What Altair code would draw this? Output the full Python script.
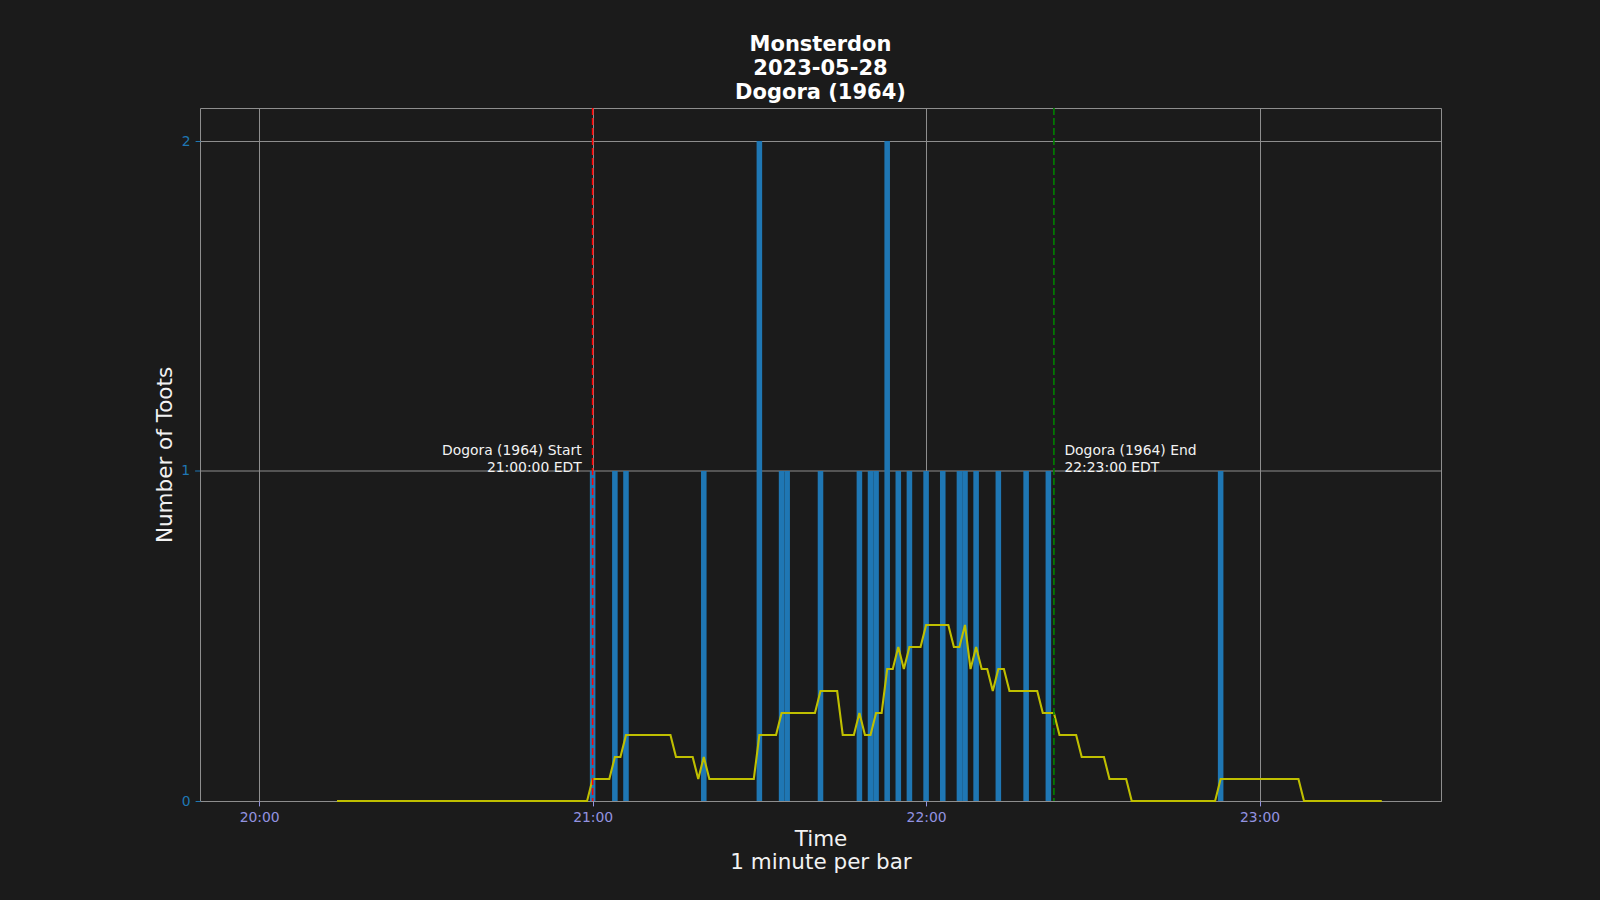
import altair as alt
import pandas as pd

DATE = "2023-05-28"

# Toots per minute (bars)
bar_times = ["21:00", "21:04", "21:06", "21:20", "21:30", "21:34", "21:35", "21:41",
             "21:48", "21:50", "21:51", "21:53", "21:55", "21:57", "22:00", "22:03",
             "22:06", "22:07", "22:09", "22:13", "22:18", "22:22", "22:53"]
bar_counts = [1, 1, 1, 1, 2, 1, 1, 1,
              1, 1, 1, 2, 1, 1, 1, 1,
              1, 1, 1, 1, 1, 1, 1]

# Rolling 15-minute line: toots in the window, one value per minute from 20:14
line_start = "20:14"
window_minutes = 15
line_window_counts = [
    0, 0, 0, 0, 0, 0, 0, 0, 0, 0, 0, 0, 0, 0, 0, 0,          # 20:14-20:29
    0, 0, 0, 0, 0, 0, 0, 0, 0, 0, 0, 0, 0, 0, 0,             # 20:30-20:44
    0, 0, 0, 0, 0, 0, 0, 0, 0, 0, 0, 0, 0, 0, 0,             # 20:45-20:59
    1, 1, 1, 1, 2, 2, 3, 3, 3, 3, 3, 3, 3, 3, 3,             # 21:00-21:14
    2, 2, 2, 2, 1, 2, 1, 1, 1, 1, 1, 1, 1, 1, 1,             # 21:15-21:29
    3, 3, 3, 3, 4, 4, 4, 4, 4, 4, 4, 5, 5, 5, 5,             # 21:30-21:44
    3, 3, 3, 4, 3, 3, 4, 4, 6, 6, 7, 6, 7, 7, 7,             # 21:45-21:59
    8, 8, 8, 8, 8, 7, 7, 8, 6, 7, 6, 6, 5, 6, 6,             # 22:00-22:14
    5, 5, 5, 5, 5, 5, 4, 4, 4, 3, 3, 3, 3, 2, 2,             # 22:15-22:29
    2, 2, 2, 1, 1, 1, 1, 0, 0, 0, 0, 0, 0, 0, 0,             # 22:30-22:44
    0, 0, 0, 0, 0, 0, 0, 0, 1, 1, 1, 1, 1, 1, 1,             # 22:45-22:59
    1, 1, 1, 1, 1, 1, 1, 1, 0, 0, 0, 0, 0, 0, 0,             # 23:00-23:14
    0, 0, 0, 0, 0, 0, 0, 0,                                  # 23:15-23:22
]

# Event markers
event_times = ["21:00", "22:23"]
event_colors = ["#ff0000", "#008000"]
event_labels = ["Dogora (1964) Start\n21:00:00 EDT", "Dogora (1964) End\n22:23:00 EDT"]
event_align = ["right", "left"]

x_tick_labels = ["20:00", "21:00", "22:00", "23:00"]
y_ticks = [0, 1, 2]
title_lines = ["Monsterdon", "2023-05-28", "Dogora (1964)"]

# ---------------------------------------------------------------------------
def iso(hm):
    return f"{DATE}T{hm}:00"

def dt(h, m, s=0):
    return alt.DateTime(year=2023, month=5, date=28, hours=h, minutes=m, seconds=s)

bars_df = pd.DataFrame({"t": [iso(t) for t in bar_times], "count": bar_counts})
line_times = pd.date_range(f"{DATE} {line_start}", periods=len(line_window_counts), freq="min")
line_df = pd.DataFrame({
    "t": line_times.strftime("%Y-%m-%dT%H:%M:%S"),
    "avg": [c / window_minutes for c in line_window_counts],
})
events_df = pd.DataFrame({
    "t": [iso(t) for t in event_times],
    "c": event_colors,
    "label": event_labels,
})
# inner y ticks, drawn explicitly (grid line, tick and label)
mid_ticks = [v for v in y_ticks if v not in (y_ticks[0], y_ticks[-1])]
ytick_df = pd.DataFrame({"v": mid_ticks, "lab": [str(v) for v in mid_ticks]})

W, H = 1241, 693
GRID = "#8e8e8e"
X_LAB = "#9393e0"
Y_LAB = "#1f77b4"
TICK = 4.9
PAD = 4.9

x_scale = alt.Scale(domain=[dt(19, 49, 21), dt(23, 32, 39)], nice=False)
y_scale = alt.Scale(domain=[0, 2.1], nice=False, zero=True)

x_axis = alt.Axis(
    values=[dt(int(s[:2]), int(s[3:])) for s in x_tick_labels],
    format="%H:%M", tickCount=20,
    title=["Time", "1 minute per bar"],
    titleFontSize=21.5, titleColor="#f2f2f2", titleFont="DejaVu Sans",
    titleFontWeight="normal", titleLineHeight=23.3, titlePadding=4,
    labelColor=X_LAB, labelFontSize=13.9, labelFont="DejaVu Sans", labelPadding=PAD,
    tickColor=X_LAB, tickSize=TICK, domain=False,
    grid=True, gridColor=GRID, gridWidth=1,
)
y_axis = alt.Axis(
    values=y_ticks, format="d", tickCount=20,
    title="Number of Toots",
    titleFontSize=21.5, titleColor="#f2f2f2", titleFont="DejaVu Sans",
    titleFontWeight="normal", titlePadding=5,
    labelColor=Y_LAB, labelFontSize=13.9, labelFont="DejaVu Sans", labelPadding=PAD,
    tickColor=Y_LAB, tickSize=TICK, domain=False,
    grid=True, gridColor=GRID, gridWidth=1, labelOverlap=False,
)

ygrid = alt.Chart(ytick_df).mark_rule(color=GRID, strokeWidth=1).encode(
    x=alt.value(0), x2=alt.value(W),
    y=alt.Y("v:Q", scale=y_scale, axis=y_axis),
)
ytickmark = alt.Chart(ytick_df).mark_rule(color=Y_LAB, strokeWidth=1).encode(
    x=alt.value(-TICK), x2=alt.value(0),
    y=alt.Y("v:Q", scale=y_scale, axis=y_axis),
)
yticklab = alt.Chart(ytick_df).mark_text(
    align="right", baseline="middle", fontSize=13.9, font="DejaVu Sans", color=Y_LAB,
).encode(
    x=alt.value(-(TICK + PAD)),
    y=alt.Y("v:Q", scale=y_scale, axis=y_axis),
    text="lab:N",
)

bars = alt.Chart(bars_df).transform_calculate(
    x0="toDate(datum.t) - 30000", x1="toDate(datum.t) + 30000"
).mark_bar(color="#1f77b4", orient="vertical").encode(
    x=alt.X("x0:T", scale=x_scale, axis=x_axis),
    x2="x1:T",
    y=alt.Y("count:Q", scale=y_scale, axis=y_axis),
)

line = alt.Chart(line_df).mark_line(color="#bfbf00", strokeWidth=2.1).encode(
    x=alt.X("t:T", scale=x_scale, axis=x_axis),
    y=alt.Y("avg:Q", scale=y_scale, axis=y_axis),
)

rules = alt.Chart(events_df).mark_rule(strokeDash=[7, 3], strokeWidth=1.6).encode(
    x=alt.X("t:T", scale=x_scale, axis=x_axis),
    y=alt.value(0), y2=alt.value(H),
    color=alt.Color("c:N", scale=None),
)

texts = []
for i, a in enumerate(event_align):
    texts.append(
        alt.Chart(events_df.iloc[[i]]).mark_text(
            align=a, baseline="bottom", lineBreak="\n", lineHeight=16.5,
            fontSize=13.9, font="DejaVu Sans", color="#f2f2f2",
            dx=(-11 if a == "right" else 10.5), dy=-13,
        ).encode(
            x=alt.X("t:T", scale=x_scale, axis=x_axis),
            y=alt.Y("one:Q", scale=y_scale, axis=y_axis),
            text="label:N",
        ).transform_calculate(one="1")
    )

chart = alt.layer(ygrid, ytickmark, yticklab, bars, line, rules, *texts).properties(
    width=W, height=H,
    title=alt.Title(
        title_lines, anchor="middle", fontSize=21, lineHeight=24,
        font="DejaVu Sans",
        fontWeight="bold", color="#ffffff", offset=4,
    ),
    autosize=alt.AutoSizeParams(type="none"),
    padding={"left": 200, "top": 108, "right": 1600 - 200 - W, "bottom": 900 - 108 - H},
    background="#1b1b1b",
).configure_view(stroke=GRID, strokeWidth=1).configure_scale(continuousPadding=0)

chart.save("out.html", embed_options={"renderer": "svg", "actions": False})
